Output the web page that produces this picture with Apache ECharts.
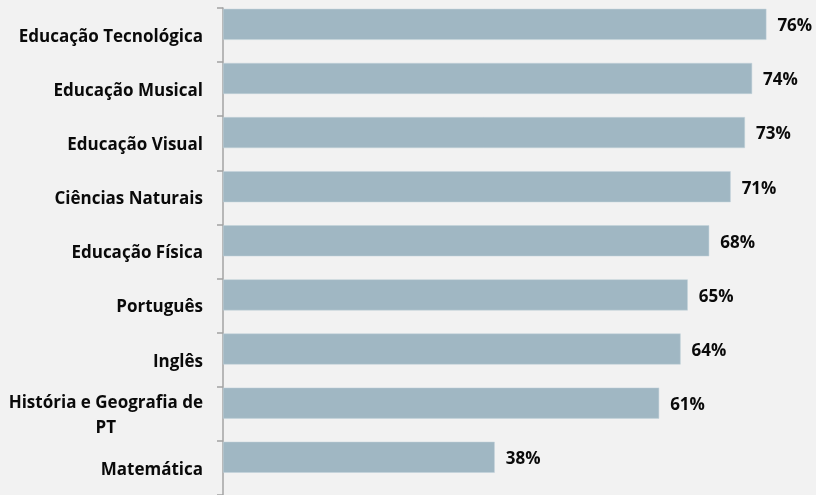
<!DOCTYPE html>
<html>
<head>
<meta charset="utf-8">
<script src="https://cdn.jsdelivr.net/npm/echarts@6/dist/echarts.min.js"></script>
<style>
  html, body { margin: 0; padding: 0; background: #f2f2f2; }
  #main { width: 816px; height: 495px; }
</style>
</head>
<body>
<div id="main"></div>
<script>
var categories = [
    'Educação Tecnológica',
    'Educação Musical',
    'Educação Visual',
    'Ciências Naturais',
    'Educação Física',
    'Português',
    'Inglês',
    'História e Geografia de\nPT',
    'Matemática'
];
var values = [76, 74, 73, 71, 68, 65, 64, 61, 38];

var myChart = echarts.init(document.getElementById('main'));

var labelFont = {
    fontFamily: 'Open Sans',
    fontWeight: 'bold',
    fontSize: 17,
    color: '#0a0a0a'
};

var option = {
    backgroundColor: '#f2f2f2',
    animation: false,
    grid: {
        left: 223,
        top: 8,
        width: 572,
        height: 490
    },
    xAxis: {
        type: 'value',
        min: 0,
        max: 80,
        show: false
    },
    yAxis: {
        type: 'category',
        data: categories,
        inverse: true,
        axisLine: { show: true, lineStyle: { color: '#a3a3a3', width: 1.5 } },
        axisTick: { show: true, interval: 0, inside: false, length: 6, lineStyle: { color: '#a3a3a3', width: 1.5 } },
        axisLabel: {
            margin: 20,
            align: 'right',
            interval: 0,
            padding: [4, 0, 0, 0],
            formatter: function (v) {
                return v.split('\n').map(function (s) { return '{c|' + s + '}'; }).join('\n');
            },
            rich: {
                c: Object.assign({ align: 'center', lineHeight: 25 }, labelFont)
            }
        },
        splitLine: { show: false }
    },
    series: [{
        type: 'bar',
        data: values,
        barWidth: 31,
        barGap: 0,
        itemStyle: { color: '#a0b7c3', borderColor: '#c3d2da', borderWidth: 0.5 },
        label: Object.assign({
            show: true,
            position: 'right',
            distance: 11,
            offset: [0, 2],
            formatter: '{c}%'
        }, labelFont)
    }, {
        // empty spacer so the bars sit in the upper part of each band
        type: 'bar',
        name: 'spacer',
        data: categories.map(function () { return '-'; }),
        barWidth: 21.4,
        silent: true
    }]
};

myChart.setOption(option);
</script>
</body>
</html>
